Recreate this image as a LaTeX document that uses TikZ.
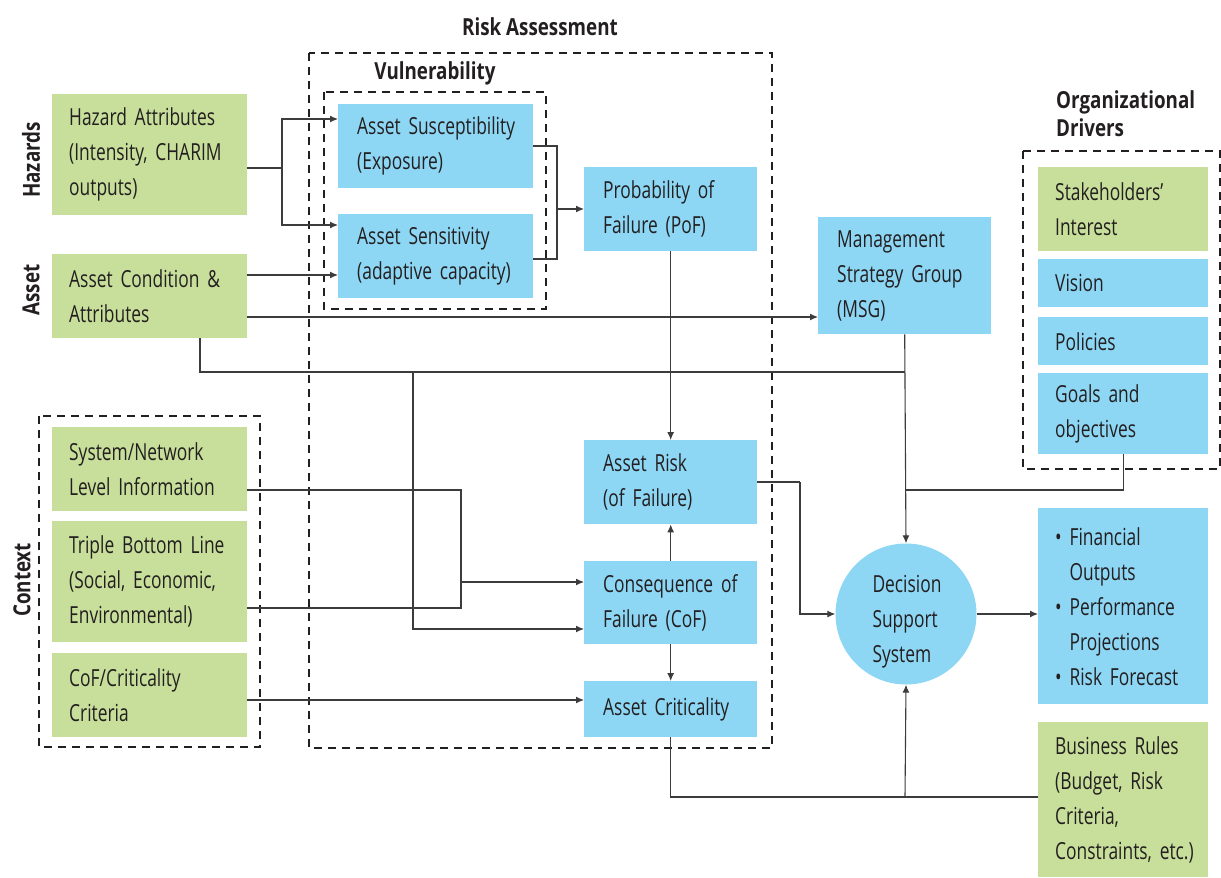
\documentclass[tikz,border=0pt]{standalone}
\usepackage{fontspec}
\setmainfont{Open Sans}[FakeStretch=0.74, BoldFeatures={FakeStretch=0.8}]
\usetikzlibrary{arrows.meta,calc}
\definecolor{gfill}{RGB}{199,223,154}
\definecolor{bfill}{RGB}{141,215,245}
\definecolor{ink}{RGB}{35,31,32}
\definecolor{ln}{RGB}{60,60,60}
\newcommand{\boxfont}{\fontsize{23.5}{35}\selectfont\fontdimen2\font=4.6pt\fontdimen3\font=0pt\fontdimen4\font=0pt}
\begin{document}
\begin{tikzpicture}[x=1pt,y=-1pt,
  box/.style={rectangle, anchor=north west, inner ysep=0pt, align=left, text=ink, font=\boxfont},
  gbox/.style={box, fill=gfill, inner xsep=17pt},
  bbox/.style={box, fill=bfill, inner xsep=19pt},
  sz/.style 2 args={text width=#1, minimum height=#2},
  conn/.style={draw=ln, line width=1.1pt},
  arr/.style={conn, -{Latex[length=8pt,width=7pt]}},
  dbox/.style={draw=ink, line width=1.2pt, dash pattern=on 8pt off 6pt},
  ttl/.style={text=ink, font=\bfseries\fontsize{23.5}{28}\selectfont, inner sep=0pt},
]
\useasboundingbox (0,0) rectangle (1221,878);

% dashed group frames
\draw[dbox] (309,53) rectangle (772,748);
\draw[dbox] (324,92) rectangle (546,309);
\draw[dbox] (39,416) rectangle (260,747);
\draw[dbox] (1023,151) rectangle (1220,469);

% titles
\node[ttl] (tra) at (540,27) {Risk Assessment};
\node[ttl] (tvu) at (435,73) {Vulnerability};
\node[ttl, anchor=west, align=left] (tod) at (1056,114) {Organizational\\Drivers};
\node[ttl, rotate=90] (thz) at (31,160) {Hazards};
\node[ttl, rotate=90] (tas) at (31,290) {Asset};
\node[ttl, rotate=90] (tcx) at (22,580) {Context};

% green input boxes
\node[gbox, sz={161pt}{121pt}] (haz) at (52,94) {\mbox{Hazard Attributes}\\\mbox{(Intensity, CHARIM}\\outputs)};
\node[gbox, sz={161pt}{84pt}] (ac) at (52,254) {\mbox{Asset Condition \&}\\Attributes};
\node[gbox, sz={161pt}{84pt}] (sys) at (52,427) {System/Network\\\mbox{Level Information}};
\node[gbox, sz={161pt}{121pt}] (tbl) at (52,521) {\mbox{Triple Bottom Line}\\\mbox{(Social, Economic,}\\Environmental)};
\node[gbox, sz={161pt}{84pt}] (cc) at (52,653) {CoF/Criticality\\Criteria};

% vulnerability
\node[bbox, sz={157pt}{84pt}] (sus) at (338,104) {\mbox{Asset Susceptibility}\\(Exposure)};
\node[bbox, sz={157pt}{84pt}] (sens) at (338,214) {\mbox{Asset Sensitivity}\\\mbox{(adaptive capacity)}};

% risk assessment column
\node[bbox, sz={135pt}{84pt}] (pof) at (584,167) {\mbox{Probability of}\\\mbox{Failure (PoF)}};
\node[bbox, sz={135pt}{84pt}] (risk) at (584,440) {Asset Risk\\(of Failure)};
\node[bbox, sz={135pt}{83pt}] (cof) at (584,561) {\mbox{Consequence of}\\\mbox{Failure (CoF)}};
\node[bbox, sz={135pt}{56pt}] (acr) at (584,681) {\mbox{Asset Criticality}};

% MSG and DSS
\node[bbox, sz={135pt}{117pt}] (msg) at (818,217) {Management\\\mbox{Strategy Group}\\(MSG)};
\node[circle, fill=bfill, minimum size=141pt, inner sep=0pt, text=ink] (dss) at (906,614) {};
\node[align=left, text=ink, inner sep=0pt, font=\boxfont] (dsst) at ([xshift=1pt,yshift=-8pt]dss.center) {Decision\\Support\\System};

% organizational drivers
\node[gbox, sz={136pt}{84pt}] (stk) at (1038,167) {Stakeholders’\\Interest};
\node[bbox, inner xsep=17pt, sz={136pt}{48pt}] (vis) at (1038,259) {Vision};
\node[bbox, inner xsep=17pt, sz={136pt}{48pt}] (pol) at (1038,317) {Policies};
\node[bbox, inner xsep=17pt, sz={136pt}{81pt}] (goal) at (1038,373) {\mbox{Goals and}\\objectives};

% outputs and business rules
\node[bbox, inner xsep=17pt, sz={136pt}{196pt}] (out) at (1038,508)
  {\textbullet\ Financial\\\hphantom{\textbullet\ }Outputs\\\mbox{\textbullet\ Performance}\\\hphantom{\textbullet\ }Projections\\\mbox{\textbullet\ Risk Forecast}};
\node[gbox, sz={136pt}{155pt}] (br) at (1038,722) {\mbox{Business Rules}\\\mbox{(Budget, Risk}\\Criteria,\\\mbox{Constraints, etc.)}};

% junction coordinates
\coordinate (jh) at (282,168);
\coordinate (jv) at (557,209);
\coordinate (jl) at (200,372);
\coordinate (jm) at (413,372);
\coordinate (jc) at (461,582);
\coordinate (jr) at (800,482);
\coordinate (jg) at (905,490);
\coordinate (jb) at (905,797);

% hazards -> vulnerability
\draw[conn] (haz.east |- jh) -- (jh);
\draw[arr] (jh) |- (sus.west |- 0,119);
\draw[arr] (jh) |- (sens.west |- 0,225);
% asset -> sensitivity, MSG
\draw[arr] (ac.east |- 0,275) -- (sens.west |- 0,275);
\draw[arr] (ac.east |- 0,317) -- (msg.west |- 0,317);
\draw[conn] (ac.south -| jl) -- (jl) -- (msg.south |- jl);
\draw[arr] (jm) |- (cof.west |- 0,629);
% vulnerability -> PoF
\draw[conn] (sus.east |- 0,146) -| (jv) |- (sens.east |- 0,259);
\draw[arr] (jv) -- (pof.west |- jv);
% PoF -> risk, CoF -> risk, CoF -> criticality
\draw[arr] (pof.south) -- (risk.north);
\draw[arr] (cof.north) -- (risk.south);
\draw[arr] (cof.south) -- (acr.north);
% context
\draw[conn] (sys.east |- 0,490) -| (jc) |- (tbl.east |- 0,608);
\draw[arr] (jc) -- (cof.west |- jc);
\draw[arr] (cc.east |- 0,700) -- (acr.west |- 0,700);
% risk -> DSS
\draw[conn] (risk.east |- jr) -- (jr);
\draw[arr] (jr) |- (dss.west);
% MSG -> DSS
\draw[arr] (msg.south) -- (dss.north);
% drivers -> DSS
\draw[conn] (goal.south) |- (jg);
% DSS -> outputs
\draw[arr] (dss.east) -- (out.west |- dss.east);
% criticality, business rules -> DSS
\draw[conn] (acr.south) |- (br.west |- jb);
\draw[arr] (jb) -- (dss.south);
\end{tikzpicture}
\end{document}
